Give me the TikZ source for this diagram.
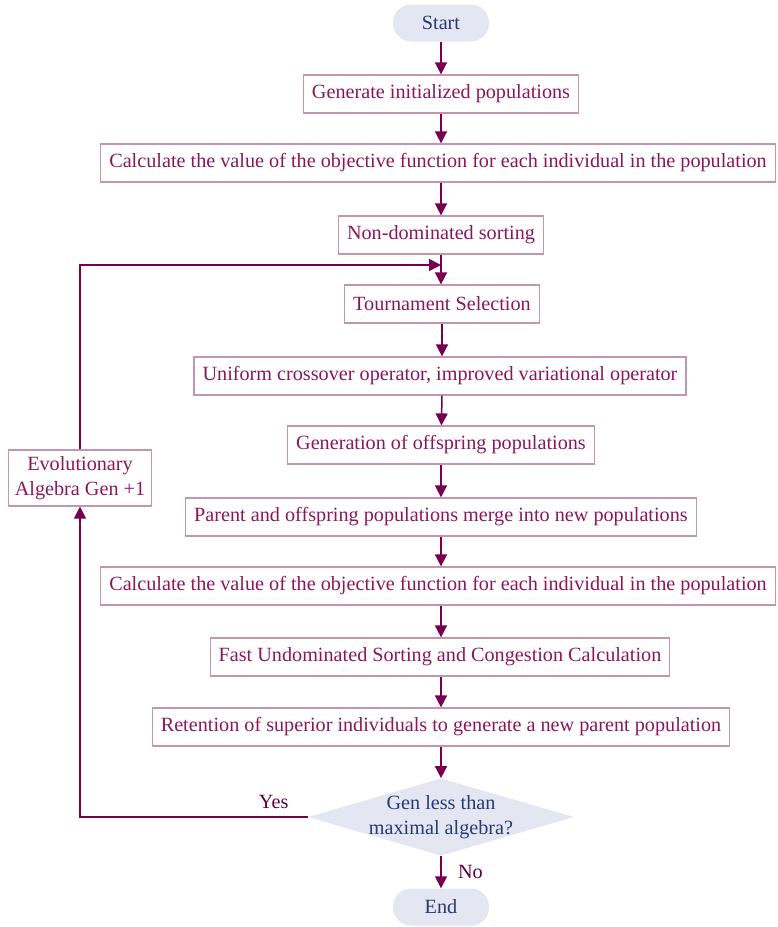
\documentclass[tikz,border=0pt]{standalone}
\usepackage{fontspec}
\setmainfont{Liberation Serif}
\usepackage{tikz}
\usetikzlibrary{arrows.meta,shapes.geometric}
\definecolor{stepred}{RGB}{140,22,92}
\definecolor{stepedge}{RGB}{196,150,172}
\definecolor{flowline}{RGB}{118,0,78}
\definecolor{termfill}{RGB}{228,231,241}
\definecolor{termtext}{RGB}{38,58,118}

\begin{document}
\begin{tikzpicture}[x=1pt, y=-1pt,
    every node/.style={font=\fontsize{20.2}{24.5}\selectfont},
    stepbox/.style={draw=stepedge, line width=1.2pt, text=stepred, minimum height=38pt, inner xsep=8.5pt},
    terminal/.style={rounded corners=18pt, fill=termfill, text=termtext, minimum width=96pt, minimum height=37pt},
    decision/.style={diamond, fill=termfill, text=termtext, align=center, inner xsep=-6pt, inner ysep=-2pt, aspect=3.44},
    flow/.style={draw=flowline, line width=1.5pt, -{Triangle[width=12pt,length=12pt]}},
    tag/.style={text=flowline!80!black}]
    \useasboundingbox (0,0) rectangle (777,927);
    \node (start) at (441,23) [terminal] {Start};
    \node (init) at (441,94) [stepbox] {Generate initialized populations};
    \node (obj1) at (438,163) [stepbox] {Calculate the value of the objective function for each individual in the population};
    \node (nds) at (441,235) [stepbox] {Non-dominated sorting};
    \node (tour) at (442,304) [stepbox] {Tournament Selection};
    \node (cross) at (440,376) [stepbox] {Uniform crossover operator, improved variational operator};
    \node (offs) at (441,445) [stepbox] {Generation of offspring populations};
    \node (merge) at (441,517) [stepbox] {Parent and offspring populations merge into new populations};
    \node (obj2) at (438,586) [stepbox] {Calculate the value of the objective function for each individual in the population};
    \node (fast) at (440,657) [stepbox] {Fast Undominated Sorting and Congestion Calculation};
    \node (keep) at (441,727) [stepbox] {Retention of superior individuals to generate a new parent population};
    \node (check) at (441,817) [decision] {Gen less than\\maximal algebra?};
    \node (stop) at (441,907) [terminal] {End};
    \node (gen) at (80,478) [stepbox, align=center, minimum height=56pt, inner xsep=6pt] {Evolutionary\\Algebra Gen +1};
    \coordinate (join) at (441,265);
    \draw[flow] (start) -- (init);
    \draw[flow] (init) -- (init |- obj1.north);
    \draw[flow] (init |- obj1.south) -- (nds);
    \draw[flow] (nds) -- (nds |- tour.north);
    \draw[flow] (tour) -- (tour |- cross.north);
    \draw[flow] (tour |- cross.south) -- (offs);
    \draw[flow] (offs) -- (merge);
    \draw[flow] (merge) -- (merge |- obj2.north);
    \draw[flow] (merge |- obj2.south) -- (merge |- fast.north);
    \draw[flow] (merge |- fast.south) -- (keep);
    \draw[flow] (keep) -- (check);
    \draw[flow] (check) -- (stop) node[tag, pos=0.5, right=13pt] {No};
    \draw[flow] (check.west) -| (gen.south) node[tag, pos=0.075, above=4pt] {Yes};
    \draw[flow] (gen.north) |- (join);
  \end{tikzpicture}
\end{document}
